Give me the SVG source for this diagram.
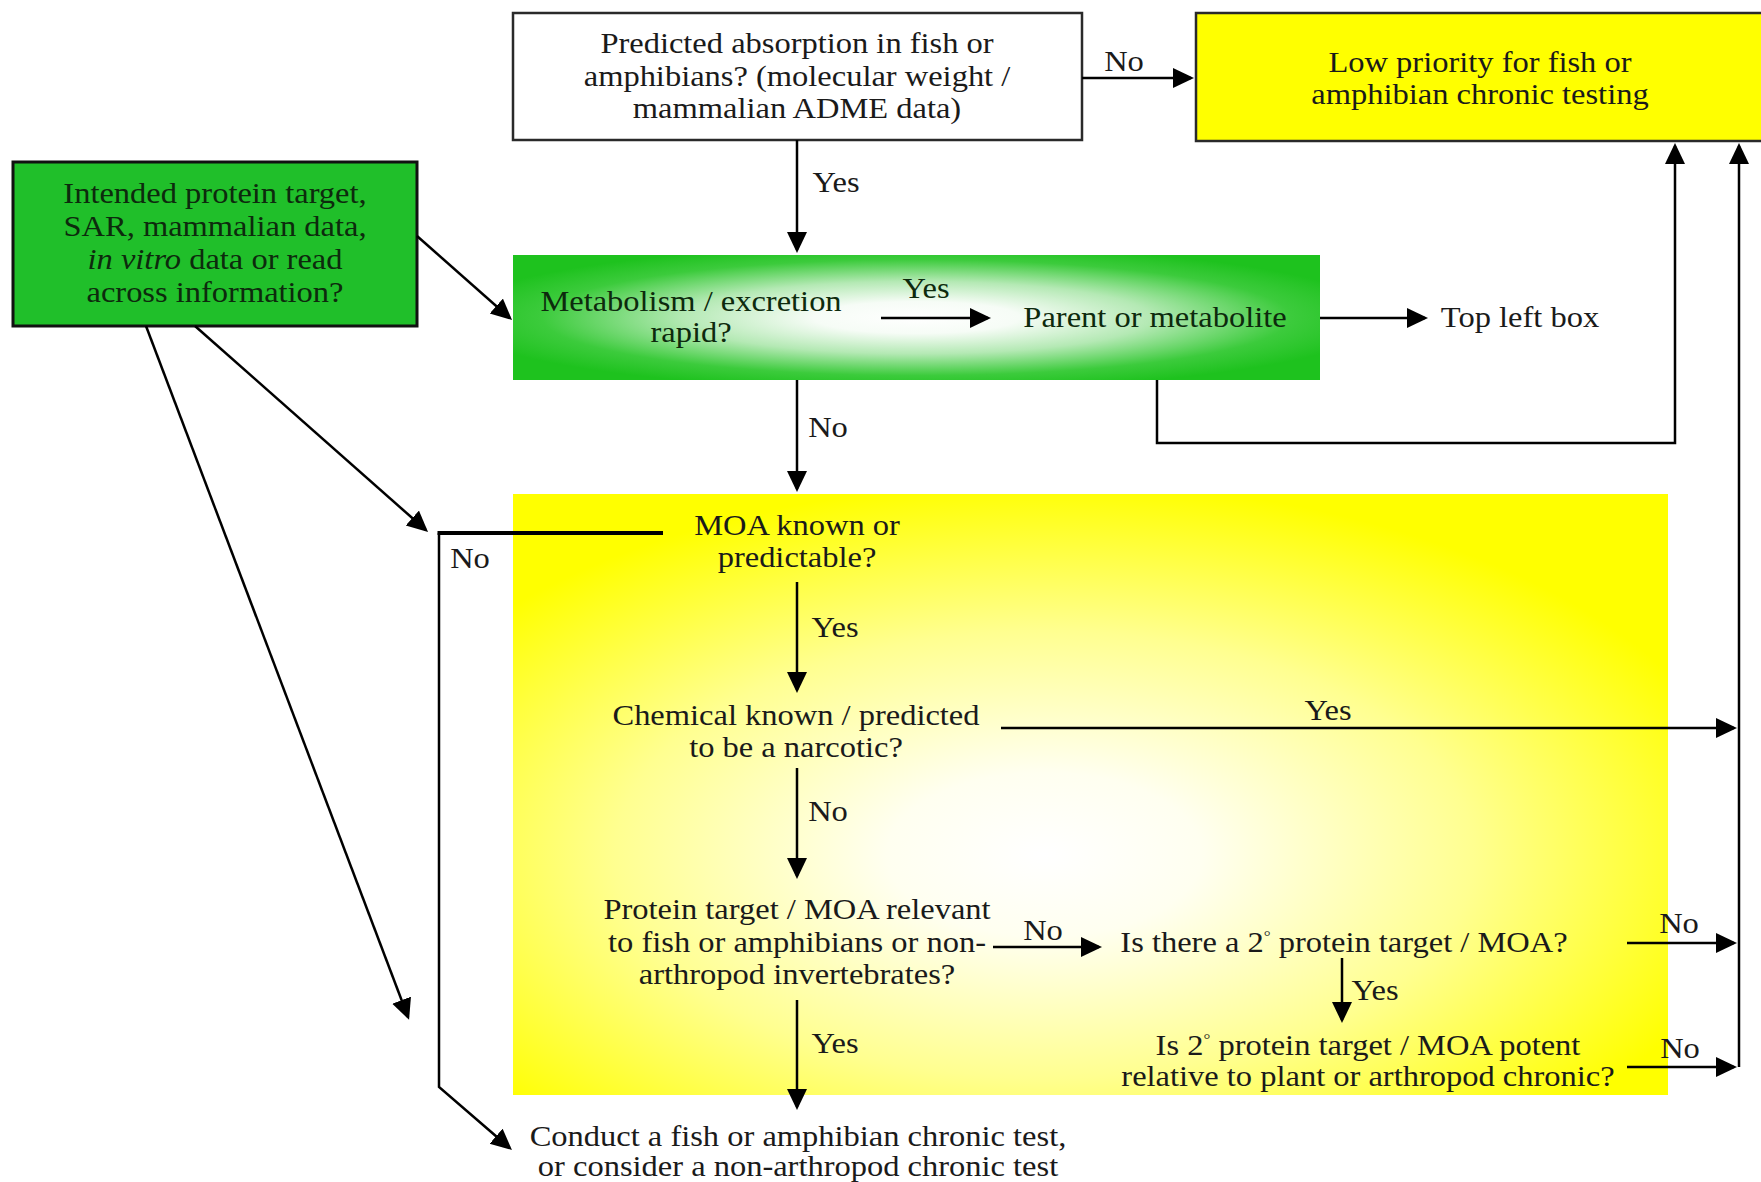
<svg xmlns="http://www.w3.org/2000/svg" width="1761" height="1182" viewBox="0 0 1761 1182">
<defs>
<style>
.t{font-family:"Liberation Serif","Times New Roman",serif;font-size:28.5px;fill:#1a1a1a;text-anchor:middle}
.g{fill:#0d2a0d}
.c{fill:none;stroke:#000;stroke-width:2.5}
.a{marker-end:url(#ah)}
.box{stroke:#2a2a2a;stroke-width:2.5}
</style>
<marker id="ah" markerUnits="userSpaceOnUse" markerWidth="24" markerHeight="22" refX="18" refY="10" orient="auto">
<path d="M0,0 L21,10 L0,20 z" fill="#000"/>
</marker>
<radialGradient id="gg" cx="0.5" cy="0.5" r="0.58">
<stop offset="0" stop-color="#ffffff"/>
<stop offset="0.22" stop-color="#f6fcf6"/>
<stop offset="0.5" stop-color="#b4e9b4"/>
<stop offset="0.8" stop-color="#3ccb3c"/>
<stop offset="1" stop-color="#1ec21e"/>
</radialGradient>
<radialGradient id="yg" cx="0.46" cy="0.6" r="0.62">
<stop offset="0" stop-color="#ffffff"/>
<stop offset="0.22" stop-color="#fffff0"/>
<stop offset="0.6" stop-color="#ffff90"/>
<stop offset="1" stop-color="#ffff00"/>
</radialGradient>
</defs>
<rect x="0" y="0" width="1761" height="1182" fill="#fff"/>

<g id="region-moa">
<rect x="513" y="494" width="1155" height="601" fill="url(#yg)"/>
</g>

<g id="node-absorption">
<rect class="box" x="513" y="13" width="569" height="127" fill="#fff"/>
<text class="t" transform="matrix(1.14 0 0 1 797 0)"><tspan x="0" y="53">Predicted absorption in fish or</tspan><tspan x="0" y="86">amphibians? (molecular weight /</tspan><tspan x="0" y="118">mammalian ADME data)</tspan></text>
</g>

<g id="node-lowpriority">
<rect class="box" x="1196" y="13" width="580" height="128" fill="#ffff00"/>
<text class="t" transform="matrix(1.14 0 0 1 1480 0)"><tspan x="0" y="72">Low priority for fish or</tspan><tspan x="0" y="104">amphibian chronic testing</tspan></text>
</g>

<g id="node-intended">
<rect x="13" y="162" width="404" height="164" fill="#20bf2a" stroke="#111" stroke-width="3"/>
<text class="t g" transform="matrix(1.14 0 0 1 215 0)"><tspan x="0" y="203">Intended protein target,</tspan><tspan x="0" y="236">SAR, mammalian data,</tspan><tspan x="0" y="269"><tspan font-style="italic">in vitro</tspan> data or read</tspan><tspan x="0" y="302">across information?</tspan></text>
</g>

<g id="node-metabolism">
<rect x="513" y="255" width="807" height="125" fill="url(#gg)"/>
<text class="t g" transform="matrix(1.14 0 0 1 691 0)"><tspan x="0" y="311">Metabolism / excretion</tspan><tspan x="0" y="342">rapid?</tspan></text>
<text class="t g" transform="matrix(1.14 0 0 1 1155 0)"><tspan x="0" y="327">Parent or metabolite</tspan></text>
</g>

<g id="node-topleftbox">
<text class="t" transform="matrix(1.14 0 0 1 1520 0)"><tspan x="0" y="327">Top left box</tspan></text>
</g>

<g id="node-moa">
<text class="t" transform="matrix(1.14 0 0 1 797 0)"><tspan x="0" y="535">MOA known or</tspan><tspan x="0" y="567">predictable?</tspan></text>
</g>

<g id="node-narcotic">
<text class="t" transform="matrix(1.14 0 0 1 796 0)"><tspan x="0" y="725">Chemical known / predicted</tspan><tspan x="0" y="757">to be a narcotic?</tspan></text>
</g>

<g id="node-protein">
<text class="t" transform="matrix(1.14 0 0 1 797 0)"><tspan x="0" y="919">Protein target / MOA relevant</tspan><tspan x="0" y="952">to fish or amphibians or non-</tspan><tspan x="0" y="984">arthropod invertebrates?</tspan></text>
</g>

<g id="node-secondary">
<text class="t" transform="matrix(1.14 0 0 1 1344 0)"><tspan x="0" y="952">Is there a 2<tspan font-size="15" dy="-11">°</tspan><tspan dy="11"> protein target / MOA?</tspan></tspan></text>
</g>

<g id="node-potent">
<text class="t" transform="matrix(1.14 0 0 1 1368 0)"><tspan x="0" y="1055">Is 2<tspan font-size="15" dy="-11">°</tspan><tspan dy="11"> protein target / MOA potent</tspan></tspan><tspan x="0" y="1086">relative to plant or arthropod chronic?</tspan></text>
</g>

<g id="node-conduct">
<text class="t" transform="matrix(1.14 0 0 1 798 0)"><tspan x="0" y="1146">Conduct a fish or amphibian chronic test,</tspan><tspan x="0" y="1176">or consider a non-arthropod chronic test</tspan></text>
</g>

<g id="connectors">
<line class="c a" x1="797" y1="140" x2="797" y2="250"/>
<line class="c a" x1="1082" y1="78" x2="1191" y2="78"/>
<line class="c a" x1="417" y1="236" x2="509.8" y2="318"/>
<line class="c a" x1="195" y1="326" x2="425.8" y2="530"/>
<line class="c a" x1="146" y1="326" x2="408" y2="1017"/>
<line class="c a" x1="881" y1="318" x2="988" y2="318"/>
<line class="c a" x1="1320" y1="318" x2="1425" y2="318"/>
<path class="c a" d="M1157,380 V443 H1675 V146"/>
<line class="c a" x1="797" y1="380" x2="797" y2="489"/>
<line x1="663" y1="533" x2="437.5" y2="533" stroke="#000" stroke-width="4"/>
<path class="c a" d="M439,533 V1087 L509.7,1148"/>
<line class="c a" x1="797" y1="582" x2="797" y2="690"/>
<line class="c a" x1="1001" y1="728" x2="1734" y2="728"/>
<line class="c a" x1="797" y1="768" x2="797" y2="876"/>
<line class="c a" x1="993" y1="947" x2="1099" y2="947"/>
<line class="c a" x1="1342" y1="958" x2="1342" y2="1020"/>
<line class="c a" x1="797" y1="1000" x2="797" y2="1107"/>
<line class="c a" x1="1627" y1="943" x2="1734" y2="943"/>
<line class="c a" x1="1627" y1="1067" x2="1734" y2="1067"/>
<path class="c a" d="M1739,1067 V146"/>
<text class="t" transform="matrix(1.14 0 0 1 1124 0)"><tspan x="0" y="71">No</tspan></text>
<text class="t" transform="matrix(1.14 0 0 1 836 0)"><tspan x="0" y="192">Yes</tspan></text>
<text class="t g" transform="matrix(1.14 0 0 1 926 0)"><tspan x="0" y="298">Yes</tspan></text>
<text class="t" transform="matrix(1.14 0 0 1 828 0)"><tspan x="0" y="437">No</tspan></text>
<text class="t" transform="matrix(1.14 0 0 1 470 0)"><tspan x="0" y="568">No</tspan></text>
<text class="t" transform="matrix(1.14 0 0 1 835 0)"><tspan x="0" y="637">Yes</tspan></text>
<text class="t" transform="matrix(1.14 0 0 1 1328 0)"><tspan x="0" y="720">Yes</tspan></text>
<text class="t" transform="matrix(1.14 0 0 1 828 0)"><tspan x="0" y="821">No</tspan></text>
<text class="t" transform="matrix(1.14 0 0 1 1043 0)"><tspan x="0" y="940">No</tspan></text>
<text class="t" transform="matrix(1.14 0 0 1 1375 0)"><tspan x="0" y="1000">Yes</tspan></text>
<text class="t" transform="matrix(1.14 0 0 1 835 0)"><tspan x="0" y="1053">Yes</tspan></text>
<text class="t" transform="matrix(1.14 0 0 1 1679 0)"><tspan x="0" y="933">No</tspan></text>
<text class="t" transform="matrix(1.14 0 0 1 1680 0)"><tspan x="0" y="1058">No</tspan></text>
</g>
</svg>
